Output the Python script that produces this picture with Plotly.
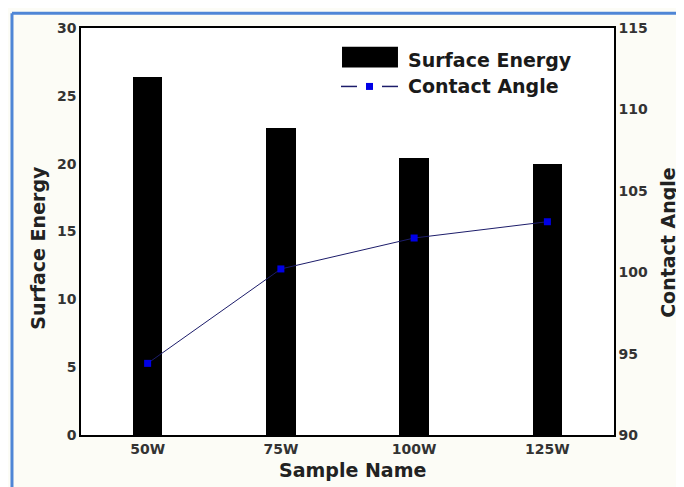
import plotly.graph_objects as go

categories = ["50W", "75W", "100W", "125W"]
surface_energy = [26.4, 22.6, 20.4, 20.0]
contact_angle = [94.4, 100.2, 102.1, 103.1]

y1_ticks = [0, 5, 10, 15, 20, 25, 30]
y2_ticks = [90, 95, 100, 105, 110, 115]

FONT = "DejaVu Sans, Liberation Sans, Arial, sans-serif"

fig = go.Figure()
fig.add_trace(go.Bar(
    x=categories, y=surface_energy, name="Surface Energy",
    marker=dict(color="black", line=dict(width=0)), width=0.22,
))
fig.add_trace(go.Scatter(
    x=categories, y=contact_angle, name="Contact Angle", yaxis="y2",
    mode="lines+markers",
    line=dict(color="#1c1c6a", width=1),
    marker=dict(symbol="square", size=7, color="#0000e6"),
))

tickfont = dict(family=FONT, size=14, color="#333333", weight="bold")
titlefont = dict(family=FONT, size=19, color="#222222", weight="bold")

fig.update_layout(
    width=684, height=487,
    margin=dict(l=73, r=78, t=16, b=60),
    paper_bgcolor="#fcfcf6",
    plot_bgcolor="white",
    showlegend=False,
    bargap=0,
    xaxis=dict(
        type="category", range=[-0.5, 3.5],
        showline=True, linecolor="black", linewidth=1.5, mirror=True,
        showgrid=False, ticks="", tickfont=tickfont,
    ),
    yaxis=dict(
        range=[0, 30], tickvals=y1_ticks,
        showline=True, linecolor="black", linewidth=1.5,
        showgrid=False, zeroline=False, ticks="", tickfont=tickfont,
    ),
    yaxis2=dict(
        range=[90, 115], tickvals=y2_ticks, overlaying="y", side="right",
        showline=True, linecolor="black", linewidth=1.5,
        showgrid=False, zeroline=False, ticks="", tickfont=tickfont,
    ),
)

# axis titles
fig.add_annotation(text="Sample Name", xref="paper", yref="paper", x=0.5103, y=-0.0852,
                   xanchor="center", yanchor="middle", showarrow=False, font=titlefont)
fig.add_annotation(text="Surface Energy", xref="paper", yref="paper", x=-0.0807, y=0.4599,
                   xanchor="center", yanchor="middle", showarrow=False, textangle=-90,
                   font=titlefont)
fig.add_annotation(text="Contact Angle", xref="paper", yref="paper", x=1.1013, y=0.4745,
                   xanchor="center", yanchor="middle", showarrow=False, textangle=-90,
                   font=titlefont)

# outer blue frame (left and top edges of the picture)
border = "#4f86d6"
fig.add_shape(type="line", xref="paper", yref="paper", x0=-0.1295, x1=-0.1295,
              y0=-0.16, y1=1.0365, line=dict(color=border, width=3))
fig.add_shape(type="line", xref="paper", yref="paper", x0=-0.1295, x1=1.16,
              y0=1.0365, y1=1.0365, line=dict(color=border, width=3))

# manual legend
fig.add_shape(type="rect", xref="paper", yref="paper", x0=0.4897, x1=0.5947,
              y0=0.9027, y1=0.9538, fillcolor="black", line=dict(width=0))
fig.add_shape(type="line", xref="paper", yref="paper", x0=0.4878, x1=0.5178,
              y0=0.8564, y1=0.8564, line=dict(color="#1c1c6a", width=1.5))
fig.add_shape(type="line", xref="paper", yref="paper", x0=0.5647, x1=0.5947,
              y0=0.8564, y1=0.8564, line=dict(color="#1c1c6a", width=1.5))
fig.add_shape(type="rect", xref="paper", yref="paper", x0=0.5347, x1=0.5478,
              y0=0.8478, y1=0.8650, fillcolor="#0000e6", line=dict(width=0))
legfont = dict(family=FONT, size=19, color="#1a1a1a", weight="bold")
fig.add_annotation(text="Surface Energy", xref="paper", yref="paper", x=0.6098, y=0.922,
                   xanchor="left", yanchor="middle", showarrow=False, font=legfont)
fig.add_annotation(text="Contact Angle", xref="paper", yref="paper", x=0.6098, y=0.8564,
                   xanchor="left", yanchor="middle", showarrow=False, font=legfont)

fig.write_html("out.html")
